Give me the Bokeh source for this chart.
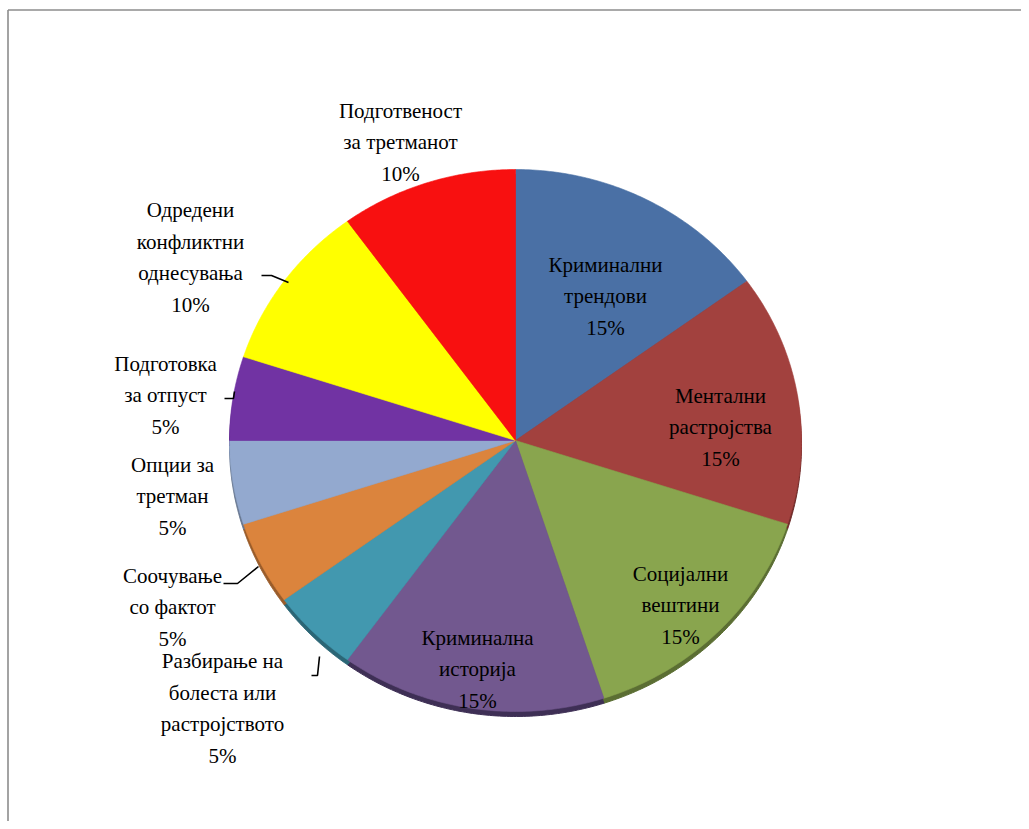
import numpy as np
from bokeh.plotting import figure
from bokeh.models import ColumnDataSource, Range1d
from bokeh.core.properties import value
from bokeh.embed import file_html
from bokeh.resources import INLINE

# ---- data ----
categories = [
    "Криминални\nтрендови",
    "Ментални\nрастројства",
    "Социјални\nвештини",
    "Криминална\nисторија",
    "Разбирање на\nболеста или\nрастројството",
    "Соочување\nсо фактот",
    "Опции за\nтретман",
    "Подготовка\nза отпуст",
    "Одредени\nконфликтни\nоднесувања",
    "Подготвеност\nза третманот",
]
percent = [15, 15, 15, 15, 5, 5, 5, 5, 10, 10]
colors = ["#4A70A5", "#A2413E", "#89A54E", "#72588F", "#4298AF",
          "#DB843D", "#93A9CF", "#7133A3", "#FFFF00", "#F81010"]
rim_colors = ["#2F4A70", "#6E2927", "#5B6E33", "#3E2F55", "#2B6676",
              "#9A5C2A", "#66768F", "#4A206C", "#B0B000", "#A80A0A"]

# ---- layout (pixel-like coordinates) ----
W, H = 1021, 821
OX, OY = 0, 0
cx, cy = 515.0, 440.0
rx, ry = 286.0, 271.0
rim = 5.0

vals = np.array(percent, dtype=float)
frac = vals / vals.sum()
ends = np.cumsum(frac) * 2 * np.pi
starts = ends - frac * 2 * np.pi

def slice_poly(a0, a1, dy=0.0):
    t = np.linspace(a0, a1, 80)
    xs = [cx] + list(cx + rx * np.sin(t))
    ys = [cy + dy] + list(cy + dy - ry * np.cos(t))
    return xs, ys

main_xs, main_ys, rim_xs, rim_ys = [], [], [], []
for a0, a1 in zip(starts, ends):
    x, y = slice_poly(a0, a1)
    main_xs.append(x); main_ys.append(y)
    x, y = slice_poly(a0, a1, rim)
    rim_xs.append(x); rim_ys.append(y)

src_main = ColumnDataSource(dict(xs=main_xs, ys=main_ys, color=colors))
src_rim = ColumnDataSource(dict(xs=rim_xs, ys=rim_ys, color=rim_colors))

labels = [f"{c}\n{v}%" for c, v in zip(categories, percent)]
label_x = [605, 720, 680, 477, 222, 172, 172, 165, 190, 400]
label_y = [296, 427, 605, 669, 708, 607, 496, 395, 257, 142]
src_lab = ColumnDataSource(dict(x=label_x, y=label_y, text=labels))

p = figure(width=W, height=H, output_backend="svg", toolbar_location=None,
           x_range=Range1d(OX, OX + W), y_range=Range1d(OY + H, OY),
           min_border=0, min_border_left=0, min_border_right=0,
           min_border_top=0, min_border_bottom=0)
p.axis.visible = False
p.grid.visible = False
p.outline_line_color = None
p.background_fill_color = "white"
p.border_fill_color = "white"

# chart area frame (left and top edges visible)
p.multi_line([[7.5, 7.5], [7.5, 2000]], [[2000, 9.5], [9.5, 9.5]],
             line_color="#8C8C8C", line_width=1.6)

# 3D rim
p.patches("xs", "ys", source=src_rim, fill_color="color", line_color="color",
          line_width=1)
p.patches("xs", "ys", source=src_main, fill_color="color", line_color="color",
          line_width=0.6)

# leader lines
lead_xs = [[311, 317, 319], [223, 237, 258], [224, 233, 234], [261, 271, 288]]
lead_ys = [[675, 675, 656], [583, 583, 566], [398, 398, 391], [275, 275, 282]]
p.multi_line(lead_xs, lead_ys, line_color="black", line_width=1.6)

p.text("x", "y", text="text", source=src_lab,
       text_font=value("Liberation Serif"), text_font_size="21px",
       text_align="center", text_baseline="middle", text_line_height=1.32,
       text_color="black")

open("out.html", "w").write(file_html(p, INLINE))
